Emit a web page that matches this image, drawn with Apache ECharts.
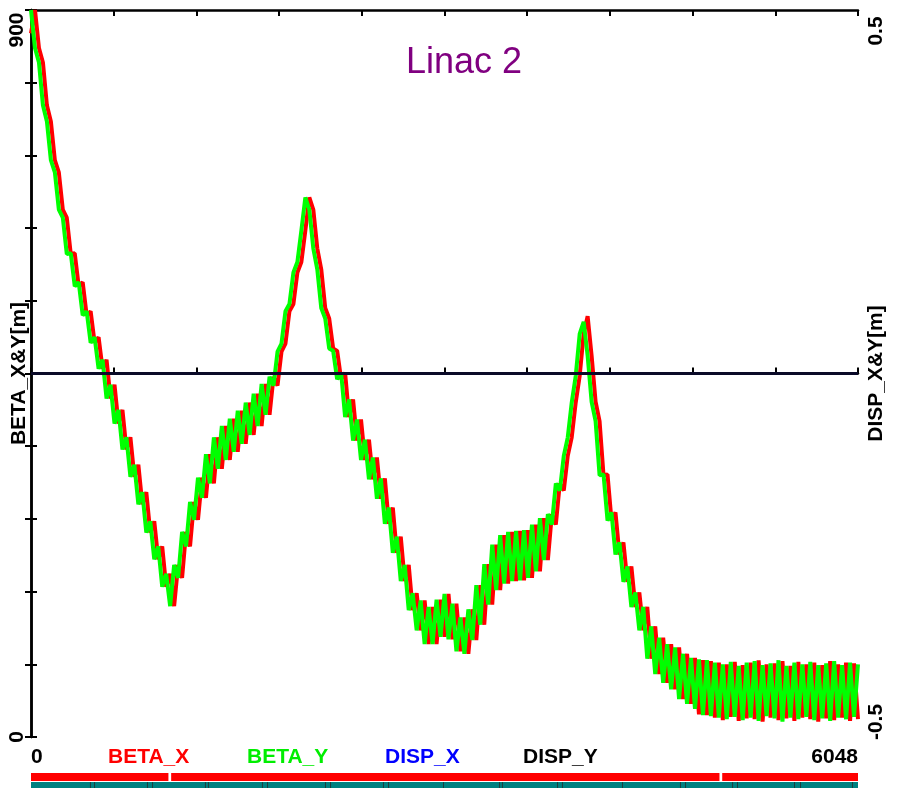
<!DOCTYPE html>
<html>
<head>
<meta charset="utf-8">
<script src="https://cdn.jsdelivr.net/npm/echarts@6.0.0/dist/echarts.min.js"></script>
<style>
html, body { margin: 0; padding: 0; background: #fff; }
#chart { width: 897px; height: 788px; }
</style>
</head>
<body>
<div id="chart"></div>
<script>
// beta functions, one value per half cell along the linac
var betaX = [
    871, 900, 853, 835, 782, 762, 714, 699, 653, 643, 598, 599, 558, 563, 522, 527, 488, 495,
    456, 467, 419, 436, 388, 405, 356, 371, 322, 337, 288, 303, 253, 267, 220, 236,
    186, 202, 162, 213, 197, 254, 236, 291, 269, 321,
    296, 350, 314, 371, 332, 385, 343, 394, 353, 404, 363, 414, 374, 425, 385, 437,
    399, 446, 435, 477, 487, 527, 536, 575, 588, 627, 668, 653, 605, 579, 531, 518, 481, 478,
    443, 451, 396, 418, 367, 393, 343, 368, 319, 346, 295, 320, 264, 284, 228, 248, 193, 213, 157, 178,
    132, 169, 115, 161, 115, 170, 124, 177, 121, 165, 106, 148, 103, 158,
    120, 188, 139, 214, 164, 238, 182, 250, 190, 254, 193, 255, 194, 256, 197, 263, 205, 271,
    219, 276, 263, 314, 305, 348, 371, 414, 447, 499, 521, 472,
    415, 391, 324, 325, 268, 278, 226, 241, 192, 211, 161, 179,
    132, 161, 97, 137, 78, 123, 67, 115, 59, 111, 47, 103, 41, 98,
    28, 95, 27, 94, 24, 92, 21, 90, 25, 93, 20, 89, 23, 92, 22, 95, 19, 90, 24, 91, 21, 94,
    23, 88, 20, 93, 24, 90, 22, 92, 19, 89, 23, 94, 21, 90, 24, 92, 20, 91, 22
];
var betaY = [
    900, 853, 835, 782, 762, 714, 699, 653, 643, 598, 599, 558, 563, 522, 527, 488, 495, 456,
    467, 419, 436, 388, 405, 356, 371, 322, 337, 288, 303, 253, 267, 220, 236, 186,
    202, 162, 213, 197, 254, 236, 291, 269, 321, 296,
    350, 314, 371, 332, 385, 343, 394, 353, 404, 363, 414, 374, 425, 385, 437, 399,
    446, 435, 477, 487, 527, 536, 575, 588, 627, 668, 653, 605, 579, 531, 518, 481, 478, 443,
    451, 396, 418, 367, 393, 343, 368, 319, 346, 295, 320, 264, 284, 228, 248, 193, 213, 157, 178, 132,
    169, 115, 161, 115, 170, 124, 177, 121, 165, 106, 148, 103, 158, 120,
    188, 139, 214, 164, 238, 182, 250, 190, 254, 193, 255, 194, 256, 197, 263, 205, 271, 219,
    276, 263, 314, 305, 348, 371, 414, 447, 499, 514, 472, 415,
    391, 324, 325, 268, 278, 226, 241, 192, 211, 161, 179, 132,
    161, 97, 137, 78, 123, 67, 115, 59, 111, 47, 103, 41, 98, 35,
    96, 27, 95, 26, 92, 24, 90, 22, 93, 25, 88, 21, 92, 24, 94, 20, 89, 26, 91, 23, 95, 19,
    88, 24, 92, 22, 90, 25, 93, 21, 89, 23, 91, 20, 94, 24, 89, 22, 92, 25, 90
];
var sampleIdx = betaY.map(function (v, i) { return i; });

// dispersion is zero along the whole linac
var dispS = [0, 6048];
var dispX = [0, 0];
var dispY = [0, 0];

// lattice strip under the plot (s positions in m)
var latticeRed = [[0, 1005], [1025, 5035], [5055, 6048]];
var latticeTeal = [[0, 6048]];
var latticeMarks = [431, 461, 848, 885, 1272, 1294, 1689, 1726, 2150, 2187, 2574, 2611, 3013,
    3423, 3444, 3847, 3883, 4322, 4746, 4783, 5127, 5163, 5580, 5624, 6004];

var legendNames = ['BETA_X', 'BETA_Y', 'DISP_X', 'DISP_Y'];
var legendColors = ['#ff0000', '#00ee00', '#0000ff', '#000000'];
var legendLeft = [108, 247, 385, 523];

var FONT = '"Liberation Sans", Arial, sans-serif';

var latticeData = [];
latticeRed.forEach(function (r) { latticeData.push([r[0], r[1], 0]); });
latticeTeal.forEach(function (r) { latticeData.push([r[0], r[1], 1]); });
latticeMarks.forEach(function (s) { latticeData.push([s, s, 2]); });

function renderLattice(params, api) {
    var s0 = api.value(0), s1 = api.value(1), kind = api.value(2);
    var p0, p1, color;
    if (kind === 0) {
        p0 = api.coord([s0, 15]); p1 = api.coord([s1, 7]); color = '#ff0000';
    } else if (kind === 1) {
        p0 = api.coord([s0, 6]); p1 = api.coord([s1, 0]); color = '#008080';
    } else {
        p0 = api.coord([s0, 6]); p1 = api.coord([s0, 0]); p1[0] = p0[0] + 1; color = '#1d3d3d';
    }
    return {
        type: 'rect',
        shape: { x: p0[0], y: p0[1], width: p1[0] - p0[0], height: p1[1] - p0[1] },
        style: { fill: color }
    };
}

var axisLineStyle = { color: '#000', width: 2.5 };
var labelFont = { fontFamily: FONT, fontWeight: 'bold', fontSize: 21, color: '#000' };
var nameFont = { fontFamily: FONT, fontWeight: 'bold', fontSize: 21, color: '#000' };

var chart = echarts.init(document.getElementById('chart'));
var option = {
    animation: false,
    backgroundColor: '#fff',
    title: {
        text: 'Linac 2', left: 401, top: 40,
        textStyle: { color: '#800080', fontSize: 36, fontWeight: 'normal', fontFamily: FONT }
    },
    graphic: legendNames.map(function (n, i) {
        return {
            type: 'text', left: legendLeft[i], top: 747,
            style: { text: n, fill: legendColors[i], font: 'bold 21px ' + FONT }
        };
    }),
    grid: [
        { left: 31, right: 39, top: 10, bottom: 51 },
        { left: 31, right: 39, top: 773, height: 15 }
    ],
    xAxis: [
        { type: 'category', gridIndex: 0, data: sampleIdx, boundaryGap: false, show: false },
        {
            type: 'value', gridIndex: 0, position: 'bottom', min: 0, max: 6048, interval: 604.8,
            axisLine: { lineStyle: axisLineStyle },
            axisTick: { inside: true, length: 6, lineStyle: { color: '#000', width: 2 } },
            splitLine: { show: false },
            axisLabel: Object.assign({
                margin: 10, showMinLabel: true, showMaxLabel: true,
                alignMinLabel: 'left', alignMaxLabel: 'right',
                formatter: function (v) { return v === 0 ? '0' : (v > 6040 ? '6048' : ''); }
            }, labelFont)
        },
        {
            type: 'value', gridIndex: 0, position: 'top', min: 0, max: 6048, interval: 604.8,
            axisLine: { lineStyle: axisLineStyle },
            axisTick: { inside: true, length: 6, lineStyle: { color: '#000', width: 2 } },
            splitLine: { show: false }, axisLabel: { show: false }
        },
        { type: 'value', gridIndex: 1, min: 0, max: 6048, show: false }
    ],
    yAxis: [
        {
            type: 'value', gridIndex: 0, position: 'left', min: 0, max: 900, interval: 90,
            name: 'BETA_X&Y[m]', nameLocation: 'middle', nameRotate: 90, nameGap: 1,
            nameMoveOverlap: false, nameTextStyle: nameFont,
            axisLine: { show: true, lineStyle: axisLineStyle },
            axisTick: { show: true, inside: true, length: 6, lineStyle: { color: '#000', width: 2 } },
            splitLine: { show: false },
            axisLabel: Object.assign({
                rotate: 90, margin: 3,
                formatter: function (v) {
                    if (v === 900) return '{top|900}';
                    if (v === 0) return '0';
                    return '';
                },
                rich: { top: Object.assign({ padding: [0, 40, 0, 0] }, labelFont) }
            }, labelFont)
        },
        {
            type: 'value', gridIndex: 0, position: 'right', min: -0.5, max: 0.5, interval: 0.1,
            name: 'DISP_X&Y[m]', nameLocation: 'middle', nameRotate: 90, nameGap: 8,
            nameMoveOverlap: false, nameTextStyle: nameFont,
            axisLine: { show: true, lineStyle: axisLineStyle },
            axisTick: { show: true, inside: true, length: 6, lineStyle: { color: '#000', width: 2 } },
            splitLine: { show: false },
            axisLabel: Object.assign({
                rotate: 90, margin: 8,
                formatter: function (v) {
                    if (v > 0.49) return '{top|0.5}';
                    if (v < -0.49) return '{bot|-0.5}';
                    return '';
                },
                rich: {
                    top: Object.assign({ padding: [0, 42, 0, 0] }, labelFont),
                    bot: Object.assign({ padding: [0, 0, 0, 30] }, labelFont)
                }
            }, labelFont)
        },
        { type: 'value', gridIndex: 1, min: 0, max: 15, show: false }
    ],
    series: [
        {
            name: 'BETA_X', type: 'line', xAxisIndex: 0, yAxisIndex: 0, data: betaX,
            showSymbol: false, lineStyle: { color: '#ff0000', width: 4 }, z: 3
        },
        {
            name: 'BETA_Y', type: 'line', xAxisIndex: 0, yAxisIndex: 0, data: betaY,
            showSymbol: false, lineStyle: { color: '#00ff00', width: 4 }, z: 4
        },
        {
            name: 'DISP_X', type: 'line', xAxisIndex: 1, yAxisIndex: 1,
            data: dispS.map(function (s, i) { return [s, dispX[i]]; }),
            showSymbol: false, lineStyle: { color: '#0000ff', width: 3 }, z: 5
        },
        {
            name: 'DISP_Y', type: 'line', xAxisIndex: 1, yAxisIndex: 1,
            data: dispS.map(function (s, i) { return [s, dispY[i]]; }),
            showSymbol: false, lineStyle: { color: '#0a0a28', width: 3 }, z: 6
        },
        {
            name: 'lattice', type: 'custom', xAxisIndex: 3, yAxisIndex: 2,
            data: latticeData, renderItem: renderLattice, silent: true
        }
    ]
};
chart.setOption(option);
</script>
</body>
</html>
